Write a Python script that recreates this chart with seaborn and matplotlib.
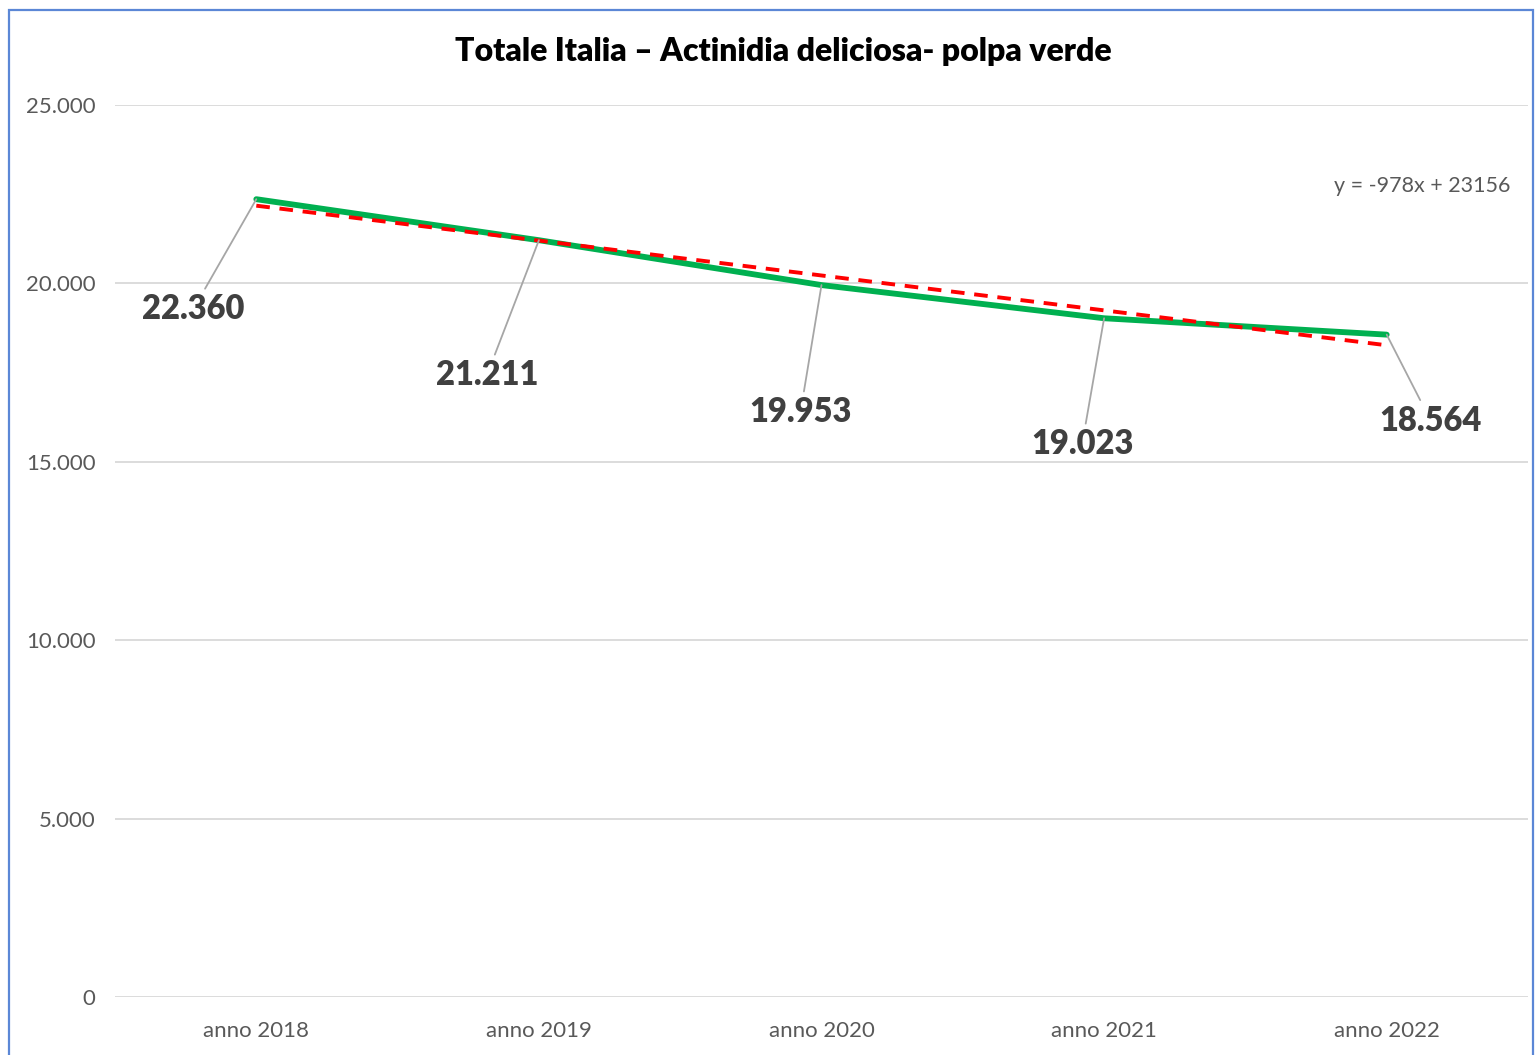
import numpy as np
import pandas as pd
import matplotlib.pyplot as plt
import matplotlib.ticker as mticker
from matplotlib.patches import Rectangle
import seaborn as sns

# data
years = ["anno 2018", "anno 2019", "anno 2020", "anno 2021", "anno 2022"]
values = [22360, 21211, 19953, 19023, 18564]
y_ticks = [0, 5000, 10000, 15000, 20000, 25000]

# label offsets in pixels (label centre relative to point)
label_offsets = [(-63, -110), (-52, -135), (-21, -127), (-22, -126), (44, -86)]


def it_fmt(v):
    return f"{v:,.0f}".replace(",", ".")


df = pd.DataFrame({"pos": np.arange(len(years)), "anno": years, "valore": values})

sns.set_theme(style="white")
plt.rcParams["font.family"] = ["Lato", "DejaVu Sans"]

fig = plt.figure(figsize=(15.37, 10.55), dpi=100)
ax = fig.add_axes([115 / 1537, 58 / 1055, 1413 / 1537, 892 / 1055])

# trendline (linear fit, x = 1..5 as in Excel)
slope, intercept = np.polyfit(df["pos"] + 1, df["valore"], 1)
sns.regplot(data=df, x="pos", y="valore", ax=ax, scatter=False, ci=None, truncate=True,
            line_kws=dict(color="#FF0000", lw=2.8, ls=(0, (3.5, 2.5)), zorder=4))

sns.lineplot(data=df, x="pos", y="valore", ax=ax, color="#00B050", lw=4.2, zorder=3)

for i, v in enumerate(values):
    dx, dy = label_offsets[i]
    ax.annotate(it_fmt(v), xy=(i, v), xytext=(dx, dy), textcoords="offset pixels",
                ha="center", va="center", fontsize=23.5, fontweight="heavy", color="#404040",
                arrowprops=dict(arrowstyle="-", color="#A6A6A6", lw=1.3,
                                shrinkA=1, shrinkB=0), zorder=5)

ax.set_xlim(-0.5, len(years) - 0.5)
ax.set_ylim(0, 25000)
ax.set_xticks(df["pos"])
ax.set_xticklabels(years)
ax.set_yticks(y_ticks)
ax.yaxis.set_major_formatter(mticker.FuncFormatter(lambda v, p: it_fmt(v)))
ax.grid(axis="y", color="#D9D9D9", lw=1.3)
ax.set_axisbelow(True)
for s in ax.spines.values():
    s.set_visible(False)
ax.tick_params(axis="y", length=0, pad=14, labelsize=16, labelcolor="#595959")
ax.tick_params(axis="x", length=0, pad=17, labelsize=16, labelcolor="#595959")
ax.set_xlabel("")
ax.set_ylabel("")

fig.text(783 / 1537, 1 - 52 / 1055, "Totale Italia \u2013 Actinidia deliciosa- polpa verde",
         ha="center", va="center", fontsize=23, fontweight="heavy", color="#000000")

fig.text(1510 / 1537, 1 - 186 / 1055,
         f"y = {slope:.0f}x + {intercept:.0f}",
         ha="right", va="center", fontsize=15.5, color="#595959")

# chart frame
fig.patches.append(Rectangle((9 / 1537, -0.02), 1524 / 1537, 1.02 - 10 / 1055,
                             transform=fig.transFigure, fill=False,
                             edgecolor="#5B87D6", lw=1.6))

fig.savefig("out.png", dpi=100)
